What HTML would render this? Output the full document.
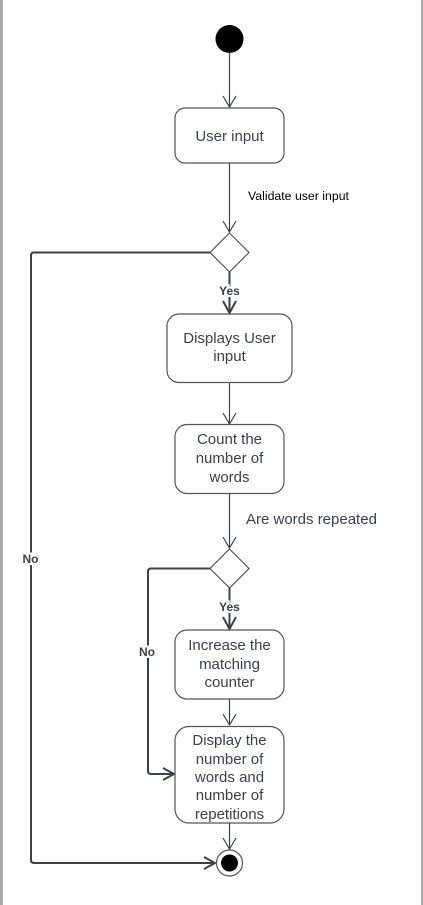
<!DOCTYPE html>
<html><head><meta charset="utf-8"><style>
html,body{margin:0;padding:0;background:#fff;}
svg{display:block;}
text{font-family:"Liberation Sans",sans-serif;}
</style></head><body>
<svg width="423" height="905" viewBox="0 0 423 905" xmlns="http://www.w3.org/2000/svg">
<rect x="0" y="0" width="3" height="905" fill="#a8a8a8"/>
<rect x="421" y="0" width="2" height="905" fill="#a8a8a8"/>
<g fill="none" stroke="#3a414a" stroke-width="1.2">
<line x1="229.5" y1="53" x2="229.5" y2="107"/>
<polyline points="223,96 229.5,107 236,96"/>
<rect x="175" y="108" width="109" height="55" rx="10" stroke="#555"/>
<line x1="229.5" y1="163" x2="229.5" y2="232"/>
<polyline points="223,221 229.5,232 236,221"/>
<polygon points="229.5,233 249,252.5 229.5,272 210,252.5" stroke="#555"/>
<path d="M210,252.5 H34 Q31,252.5 31,255.5 V860 Q31,863 34,863 H215" stroke-width="2"/>
<polyline points="204,857 215,863 204,869" stroke-width="2"/>
<line x1="229.5" y1="272" x2="229.5" y2="313" stroke-width="2"/>
<polyline points="223,301 229.5,313 236,301" stroke-width="2"/>
<rect x="167" y="314" width="125" height="68.5" rx="12" stroke="#555"/>
<line x1="229.5" y1="383" x2="229.5" y2="424"/>
<polyline points="223,413 229.5,424 236,413"/>
<rect x="175" y="424.5" width="109" height="69" rx="12" stroke="#555"/>
<line x1="229.5" y1="494" x2="229.5" y2="548"/>
<polyline points="223,537 229.5,548 236,537"/>
<polygon points="229.5,549 249,568.5 229.5,588 210,568.5" stroke="#555"/>
<path d="M210,568.5 H151 Q148,568.5 148,571.5 V771 Q148,774 151,774 H174" stroke-width="2"/>
<polyline points="163,768 174,774 163,780" stroke-width="2"/>
<line x1="229.5" y1="588" x2="229.5" y2="629" stroke-width="2"/>
<polyline points="223,617 229.5,629 236,617" stroke-width="2"/>
<rect x="175" y="630" width="109" height="69" rx="12" stroke="#555"/>
<line x1="229.5" y1="699" x2="229.5" y2="725"/>
<polyline points="223,714 229.5,725 236,714"/>
<rect x="175" y="726.5" width="109" height="96.5" rx="14" stroke="#555"/>
<line x1="229.5" y1="823" x2="229.5" y2="850"/>
<polyline points="223,838 229.5,849 236,838"/>
<circle cx="229.5" cy="863" r="13" stroke="#555"/>
</g>
<circle cx="229.5" cy="39" r="14" fill="#000"/>
<circle cx="229.5" cy="863" r="8.5" fill="#000"/>
<g fill="#3a414a" font-size="15" text-anchor="middle">
<text x="229.5" y="141">User input</text>
<text x="229.5" y="343">Displays User</text>
<text x="229.5" y="361">input</text>
<text x="229.5" y="444">Count the</text>
<text x="229.5" y="463">number of</text>
<text x="229.5" y="482">words</text>
<text x="229.5" y="650">Increase the</text>
<text x="229.5" y="669">matching</text>
<text x="229.5" y="687">counter</text>
<text x="229.5" y="745">Display the</text>
<text x="229.5" y="764">number of</text>
<text x="229.5" y="782">words and</text>
<text x="229.5" y="800">number of</text>
<text x="229.5" y="819">repetitions</text>
</g>
<text x="248" y="200" font-size="12.3" fill="#000">Validate user input</text>
<text x="246" y="524" font-size="15" fill="#3a414a">Are words repeated</text>
<g fill="#3a414a" font-size="12" font-weight="bold" text-anchor="middle">
<text x="229.5" y="295" stroke="#fff" stroke-width="4" paint-order="stroke">Yes</text>
<text x="229.5" y="611" stroke="#fff" stroke-width="4" paint-order="stroke">Yes</text>
<text x="30.5" y="563" stroke="#fff" stroke-width="4" paint-order="stroke">No</text>
<text x="147" y="656" stroke="#fff" stroke-width="4" paint-order="stroke">No</text>
</g>
</svg>
</body></html>
